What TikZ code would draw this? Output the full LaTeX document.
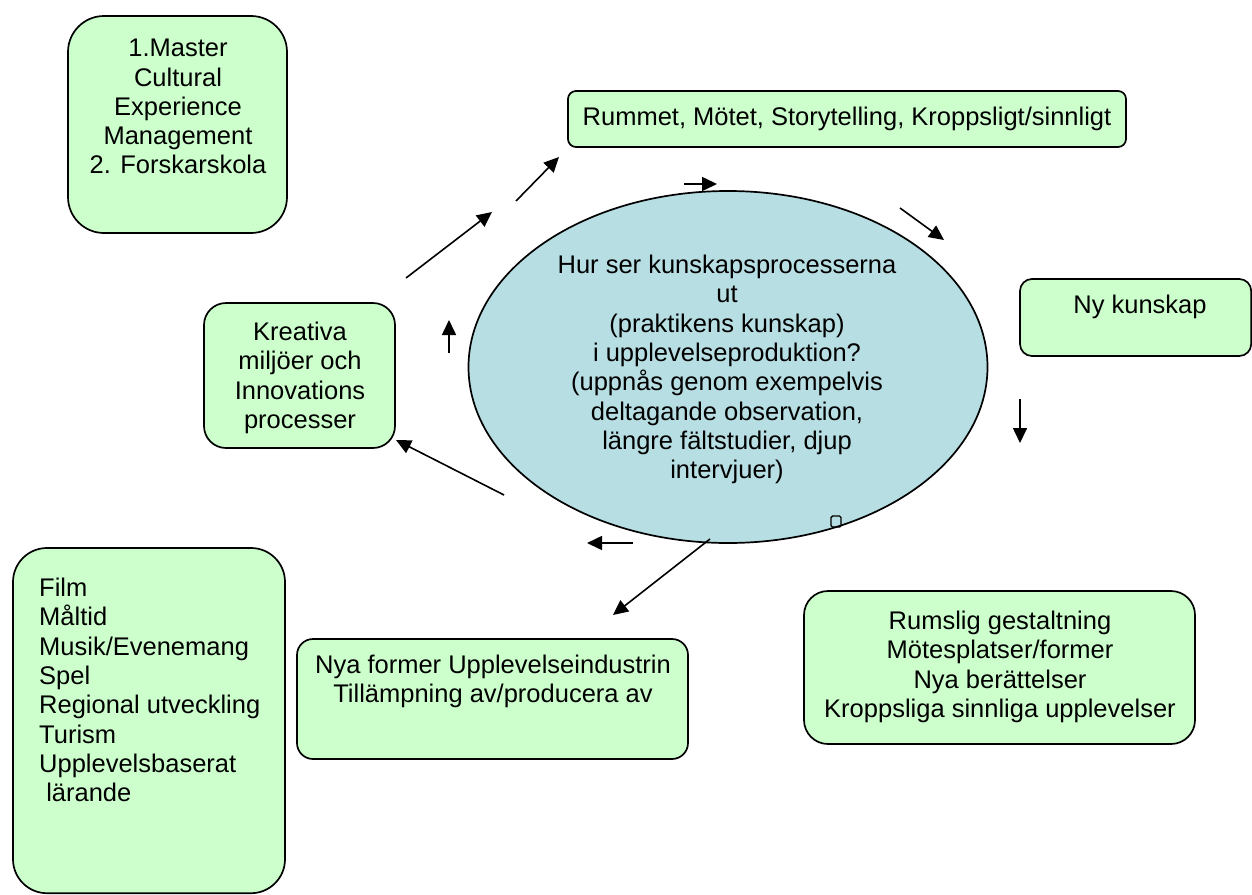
\documentclass[tikz,border=0pt]{standalone}
\usepackage{fontspec}
\setmainfont{Liberation Sans}
\usetikzlibrary{shapes.geometric,arrows.meta}
\definecolor{boxgreen}{HTML}{CCFFCC}
\definecolor{ellblue}{HTML}{B7DEE3}
\begin{document}
\begin{tikzpicture}[x=1pt,y=-1pt,
  gbox/.style={draw=black,line width=1.7pt,fill=boxgreen},
  txt/.style={font=\fontsize{25.5}{29.3}\selectfont,align=center,inner sep=0pt,anchor=north},
  arr/.style={line width=1.6pt,-{Triangle[length=15pt,width=14pt]}}]
\useasboundingbox (0,0) rectangle (1252,894);
% boxes
\draw[gbox,rounded corners=36pt] (68,16) rectangle (287,233);
\node[txt] (t1) at (178,39) {1.Master\\Cultural\\Experience\\Management\\2. Forskarskola};
\draw[gbox,rounded corners=8pt] (568,91) rectangle (1126,147);
\node[txt,anchor=center] (t2) at (847,119) {Rummet, Mötet, Storytelling, Kroppsligt/sinnligt};
\draw[gbox,rounded corners=12pt] (1020,279) rectangle (1251.2,356);
\node[txt] (t3) at (1140,295) {Ny kunskap};
\draw[gbox,rounded corners=22pt] (204,303) rectangle (395,448);
\node[txt] (t4) at (300,322) {Kreativa\\miljöer och\\Innovations\\processer};
\node[draw=black,line width=1.7pt,fill=ellblue,ellipse,minimum width=519pt,minimum height=352pt,inner sep=0pt] (ell) at (728,367) {};
\node[txt] (t5) at (727,255) {Hur ser kunskapsprocesserna\\ut\\(praktikens kunskap)\\i upplevelseproduktion?\\(uppnås genom exempelvis\\deltagande observation,\\längre fältstudier, djup\\intervjuer)};
\draw[gbox,rounded corners=34pt] (13,548) rectangle (285,893.2);
\node[txt,align=left,anchor=north west] (t6) at (39,578) {Film\\Måltid\\Musik/Evenemang\\Spel\\Regional utveckling\\Turism\\Upplevelsbaserat\\\ lärande};
\draw[gbox,rounded corners=16pt] (297,639) rectangle (688,759);
\node[txt] (t7) at (493,655) {Nya former Upplevelseindustrin\\Tillämpning av/producera av};
\draw[gbox,rounded corners=24pt] (804,591) rectangle (1195,744);
\node[txt] (t8) at (1000,611) {Rumslig gestaltning\\Mötesplatser/former\\Nya berättelser\\Kroppsliga sinnliga upplevelser};
% small square
\draw[line width=1.4pt,rounded corners=1.5pt] (831,516) rectangle (841,527);
% arrow coordinates
\coordinate (a1s) at (406,278); \coordinate (a1e) at (492,212);
\coordinate (a2s) at (516,201); \coordinate (a2e) at (559,157);
\coordinate (a3s) at (684,184); \coordinate (a3e) at (717,184);
\coordinate (a4s) at (900,208); \coordinate (a4e) at (944,240);
\coordinate (a5s) at (1020,399); \coordinate (a5e) at (1020,443);
\coordinate (a6s) at (633,543); \coordinate (a6e) at (587,543);
\coordinate (a7s) at (710,539); \coordinate (a7e) at (613,615);
\coordinate (a8s) at (504,495); \coordinate (a8e) at (396,440);
\coordinate (a9s) at (449,353); \coordinate (a9e) at (449,320);
\foreach \a in {1,...,9} {\draw[arr] (a\a s) -- (a\a e);}
\end{tikzpicture}
\end{document}
